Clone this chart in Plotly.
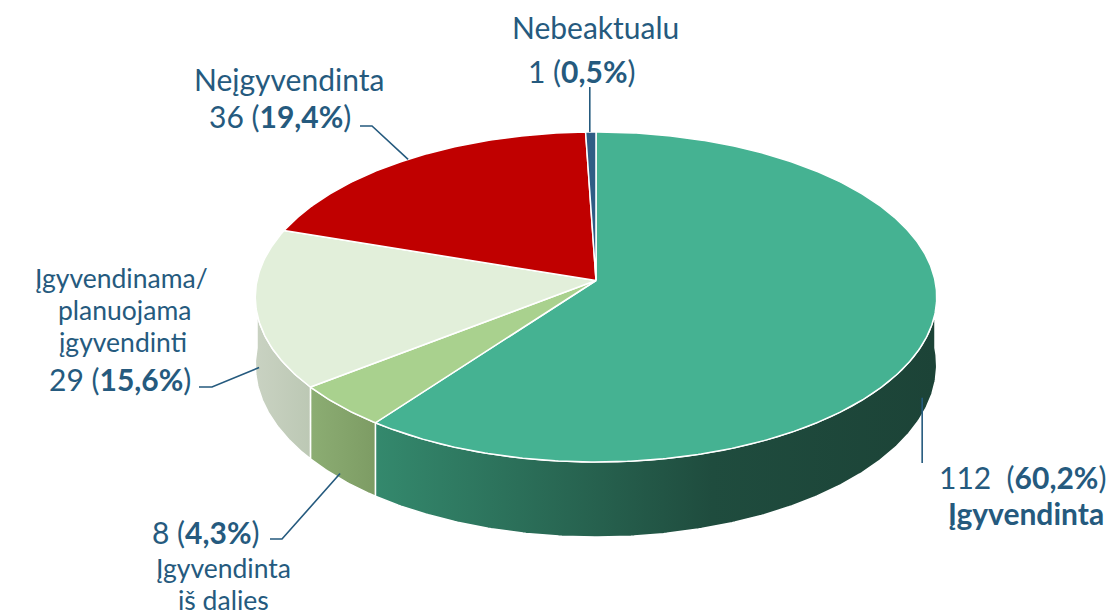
import math
import plotly.graph_objects as go

# ---------------- data ----------------
categories = ["Įgyvendinta", "Įgyvendinta iš dalies",
              "Įgyvendinama/planuojama įgyvendinti", "Neįgyvendinta", "Nebeaktualu"]
values = [112, 8, 29, 36, 1]
top_colors = ["#45B292", "#A9D18E", "#E2EFDA", "#C00000", "#2F5D85"]
side_scales = [
    [[0, "#34896d"], [0.6, "#1f4c3e"], [1, "#1c4337"]],
    [[0, "#8cad73"], [1, "#7d9c64"]],
    [[0, "#c9d2c2"], [1, "#bcc8b4"]],
    [[0, "#900000"], [1, "#700000"]],
    [[0, "#24486a"], [1, "#1c3a56"]],
]

# ---------------- geometry (layout) ----------------
W, Hh = 1117, 616
OFF = 8  # default page body margin
CX, CY = 596, 280.5
A, B = 339, 163.4
P = 0.1
DEPTH = 67.5
TXT = "#255A7E"
FONT = "Lato"


def proj(theta, h=0.0, r=1.0):
    t = math.radians(theta)
    x = r * math.sin(t)
    z = -r * math.cos(t)
    s = 1.0 / (1.0 - P * z)
    return CX + A * x * s, CY + B * z * s + h * s


def arc(a, b, h=0.0, step=0.5):
    n = max(2, int(abs(b - a) / step) + 1)
    pts = [proj(a + (b - a) * i / (n - 1), h) for i in range(n)]
    return [p[0] for p in pts], [p[1] for p in pts]


total = sum(values)
angles = []
acc = 0.0
for v in values:
    a0 = acc / total * 360
    acc += v
    a1 = acc / total * 360
    angles.append((a0, a1))

fig = go.Figure()

# side walls (front half only)
for (a0, a1), cs in zip(angles, side_scales):
    lo, hi = max(a0, 90), min(a1, 270)
    if lo >= hi:
        continue
    tx, ty = arc(lo, hi, 0)
    bx, by = arc(hi, lo, DEPTH)
    xs = tx + bx + [tx[0]]
    ys = ty + by + [ty[0]]
    fig.add_trace(go.Scatter(
        x=xs, y=ys, mode="lines", fill="toself",
        fillgradient=dict(type="horizontal", colorscale=cs),
        line=dict(color="white", width=1.5), hoverinfo="skip", showlegend=False))

# top faces
for (a0, a1), col, name in zip(angles, top_colors, categories):
    ax, ay = arc(a0, a1, 0)
    xs = [CX] + ax + [CX]
    ys = [CY] + ay + [CY]
    fig.add_trace(go.Scatter(
        x=xs, y=ys, mode="lines", fill="toself", fillcolor=col,
        line=dict(color="white", width=1.5), name=name,
        hoverinfo="text", text=name, showlegend=False))


def pct(v):
    return f"{v / total * 100:.1f}".replace(".", ",")


mids = [(a0 + a1) / 2 for a0, a1 in angles]

# leader lines: (pie anchor, elbow points near label)
lx, ly = [], []


def leader(pts):
    for p in pts:
        lx.append(p[0]); ly.append(p[1])
    lx.append(None); ly.append(None)


# Įgyvendinta (index 0)
p = proj(mids[0], DEPTH * 0.92)
leader([(p[0] - 6, p[1]), (p[0] - 6, 463)])
# iš dalies (1)
p = proj(mids[1], DEPTH * 0.93)
leader([p, (282, 539), (270, 539)])
# Įgyvendinama (2)
p = proj(mids[2], DEPTH * 0.92)
leader([(p[0] + 3, p[1] - 4), (212, 387), (199, 387)])
# Neįgyvendinta (3)
p = proj(mids[3], 0)
leader([p, (372, 126), (360, 126)])
# Nebeaktualu (4)
p = proj(mids[4], 0)
leader([(p[0] - 1, p[1]), (p[0] - 1, 87)])

fig.add_trace(go.Scatter(x=lx, y=ly, mode="lines", line=dict(color=TXT, width=1.6),
                         hoverinfo="skip", showlegend=False))

ann = []


def label(x, y, text, size=30):
    ann.append(dict(x=x, y=y, xref="x", yref="y", text=text, showarrow=False,
                    xanchor="center", yanchor="middle",
                    font=dict(family=FONT, size=size, color=TXT)))


SM = 26.5
label(595, 27, "Nebeaktualu", 30)
label(582, 71, f"{values[4]} (<b>{pct(values[4])}%</b>)")
label(289, 79, "Neįgyvendinta")
label(280, 116, f"{values[3]} (<b>{pct(values[3])}%</b>)")
label(121, 278, "Įgyvendinama/", SM)
label(124, 310, "planuojama", SM)
label(123, 342, "įgyvendinti", SM)
label(120, 379, f"{values[2]} (<b>{pct(values[2])}%</b>)")
label(206, 532, f"{values[1]} (<b>{pct(values[1])}%</b>)")
label(223, 568, "Įgyvendinta", SM)
label(223, 600, "iš dalies", SM)
label(1022, 477, f"{values[0]}  (<b>{pct(values[0])}%</b>)")
label(1026, 513, "<b>Įgyvendinta</b>")

fig.update_layout(
    width=W - OFF, height=Hh - OFF, margin=dict(l=0, r=0, t=0, b=0),
    paper_bgcolor="white", plot_bgcolor="white",
    xaxis=dict(range=[OFF, W], visible=False, fixedrange=True),
    yaxis=dict(range=[Hh, OFF], visible=False, fixedrange=True),
    annotations=ann, showlegend=False,
)

fig.write_html("out.html")
